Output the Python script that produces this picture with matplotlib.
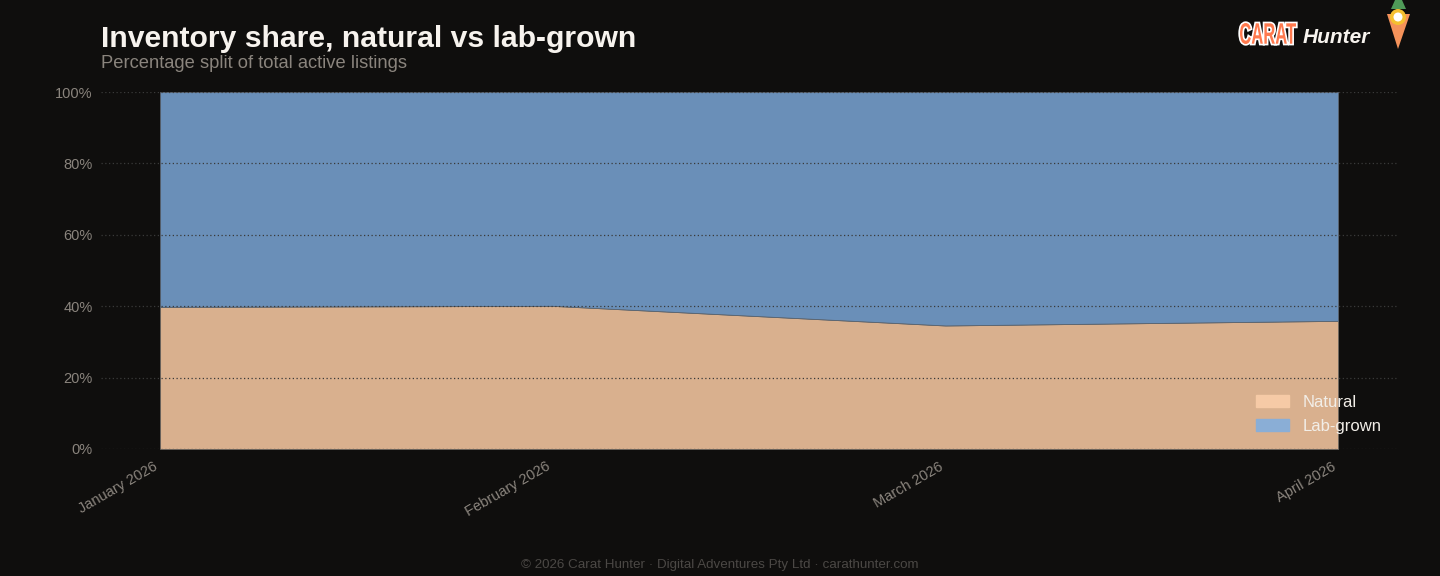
import matplotlib

matplotlib.use("Agg")
import matplotlib.patheffects as pe
import matplotlib.pyplot as plt
import matplotlib.transforms as mtransforms
import numpy as np
from matplotlib.font_manager import FontProperties
from matplotlib.patches import Patch, PathPatch, Polygon, Ellipse
from matplotlib.textpath import TextPath

# data (share of active listings, %)
months = ["January 2026", "February 2026", "March 2026", "April 2026"]
natural = [39.8, 40.1, 34.6, 35.9]
lab_grown = [100 - v for v in natural]
y_ticks = [0, 20, 40, 60, 80, 100]

BG = "#0f0e0d"
NAT_FILL = "#d9b08e"
LAB_FILL = "#6a8fb8"
NAT_LEG = "#f6caa6"
LAB_LEG = "#8aaed6"
MUTED = "#8a847d"

W, H = 1440, 576

plt.rcParams["font.family"] = ["Liberation Sans", "DejaVu Sans"]

fig = plt.figure(figsize=(14.4, 5.76), dpi=100, facecolor=BG)
ax = fig.add_axes([101 / W, 1 - 449 / H, 1296 / W, 357 / H])
ax.set_facecolor(BG)

x = np.arange(len(months))
nat = np.array(natural)
lab = np.array(lab_grown)

ax.fill_between(x, 0, nat, color=NAT_FILL, lw=0.6, edgecolor="#6b6660", zorder=2)
ax.fill_between(x, nat, nat + lab, color=LAB_FILL, lw=0.6, edgecolor="#5a6470", zorder=2)

ax.set_xlim(-0.1505, 3.15)
ax.set_ylim(0, 100)
ax.set_yticks(y_ticks)
ax.set_yticklabels([f"{t}%" for t in y_ticks])
ax.set_xticks(x)
ax.set_xticklabels(months, rotation=30, ha="right", rotation_mode="anchor")
ax.tick_params(axis="both", length=0, colors=MUTED, labelsize=10.5)
ax.tick_params(axis="y", pad=6)
ax.tick_params(axis="x", pad=9)
shift = mtransforms.ScaledTranslation(-7 / 100, 2 / 100, fig.dpi_scale_trans)
for lbl in ax.get_xticklabels():
    lbl.set_transform(lbl.get_transform() + shift)
for s in ax.spines.values():
    s.set_visible(False)
ax.grid(axis="y", color="#3a3a3a", linestyle=(0, (1, 2)), lw=0.9, zorder=3)
ax.set_axisbelow(False)

leg = ax.legend(
    handles=[Patch(color=NAT_LEG, label="Natural"), Patch(color=LAB_LEG, label="Lab-grown")],
    loc="lower right",
    bbox_to_anchor=(1.0, 0.0),
    frameon=False,
    fontsize=12,
    labelcolor="#f2eee8",
    handlelength=2.0,
    handleheight=0.7,
    handletextpad=0.85,
    labelspacing=0.55,
)

# titles
fig.text(101 / W, 1 - 47 / H, "Inventory share, natural vs lab-grown",
         color="#f7f3ee", fontsize=21.7, fontweight="bold", va="baseline")
fig.text(101 / W, 1 - 68 / H, "Percentage split of total active listings",
         color=MUTED, fontsize=13.2, va="baseline")

# footer
fig.text(0.5, 1 - 568 / H,
         "\u00a9 2026 Carat Hunter \u00b7 Digital Adventures Pty Ltd \u00b7 carathunter.com",
         color="#4b4845", fontsize=9.6, ha="center", va="baseline")

# logo: condensed "CARAT" wordmark squeezed from a text path
tp = TextPath((0, 0), "CARAT", size=20,
              prop=FontProperties(family="Liberation Sans", weight="bold"))
ext = tp.get_extents()
sx = 56 / ext.width
sy = 21 / ext.height
logo_tf = (mtransforms.Affine2D().translate(-ext.x0, -ext.y0).scale(sx, sy)
           .translate(1240, H - 44))
word = PathPatch(tp, transform=logo_tf, facecolor="#ff7a4f", edgecolor="none",
                 path_effects=[pe.withStroke(linewidth=2.4, foreground="#ffffff")])
fig.add_artist(word)

fig.text(1303 / W, 1 - 43 / H, "Hunter", color="#f7f3ee", fontsize=15,
         fontweight="bold", style="italic", va="baseline")
carrot = Polygon([[1387 / W, 1 - 14 / H], [1410 / W, 1 - 14 / H],
                  [1398 / W, 1 - 49 / H]], closed=True,
                 transform=fig.transFigure, facecolor="#f5925a", edgecolor="none")
fig.patches.append(carrot)
leaf = Polygon([[1391 / W, 1 - 9 / H], [1406 / W, 1 - 9 / H],
                [1402 / W, 1 - 0 / H], [1395 / W, 1 - 0 / H]], closed=True,
               transform=fig.transFigure, facecolor="#4f9a58", edgecolor="none")
fig.patches.append(leaf)
face = Ellipse((1398 / W, 1 - 17 / H), 16 / W, 16 / H, transform=fig.transFigure,
               facecolor="#f5c030", edgecolor="none")
fig.patches.append(face)
face2 = Ellipse((1398 / W, 1 - 17 / H), 9 / W, 9 / H, transform=fig.transFigure,
                facecolor="#ffffff", edgecolor="none")
fig.patches.append(face2)

fig.savefig("out.png", dpi=100, facecolor=BG)
